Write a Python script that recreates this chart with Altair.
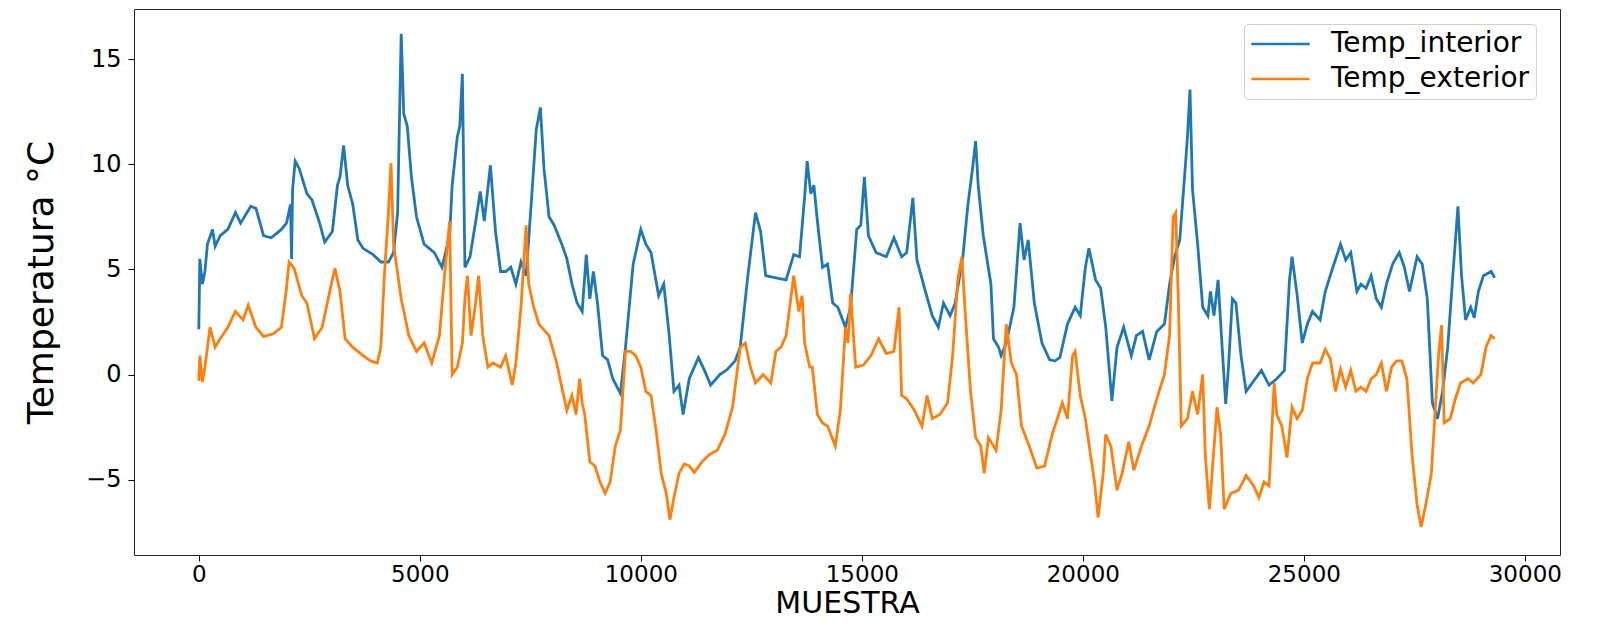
import altair as alt
import pandas as pd

# ---- data ----
x_interior = [0, 23, 81, 138, 196, 311, 369, 484, 657, 830, 946, 1176, 1292, 1465, 1638, 1869,
              1984, 2076, 2099, 2122, 2180, 2272, 2445, 2561, 2734, 2849, 3022, 3137, 3195, 3276,
              3368, 3483, 3599, 3714, 3945, 4118, 4291, 4406, 4498, 4579, 4637, 4717, 4810, 4925,
              5098, 5329, 5502, 5675, 5732, 5848, 5905, 5963, 6021, 6136, 6251, 6367, 6459, 6597,
              6713, 6828, 6943, 7059, 7174, 7289, 7405, 7520, 7635, 7728, 7809, 7924, 8039, 8212,
              8328, 8443, 8558, 8674, 8766, 8847, 8927, 9020, 9135, 9250, 9366, 9539, 9654, 9827,
              10000, 10115, 10231, 10404, 10519, 10634, 10750, 10865, 10957, 11096, 11303, 11441,
              11580, 11788, 11961, 12134, 12249, 12422, 12595, 12710, 12826, 13056, 13287, 13460,
              13591, 13707, 13764, 13845, 13915, 13995, 14111, 14226, 14342, 14457, 14630, 14746,
              14885, 14977, 15058, 15150, 15323, 15554, 15727, 15901, 16016, 16155, 16247, 16420,
              16593, 16732, 16848, 16998, 17113, 17286, 17402, 17494, 17575, 17633, 17748, 17921,
              17979, 18095, 18152, 18268, 18441, 18580, 18672, 18764, 18903, 19076, 19249, 19365,
              19480, 19653, 19827, 19942, 20058, 20138, 20289, 20404, 20519, 20658, 20774, 20924,
              21097, 21212, 21351, 21501, 21674, 21847, 21963, 22078, 22193, 22309, 22367, 22425,
              22482, 22598, 22713, 22829, 22887, 22967, 23060, 23152, 23233, 23291, 23383, 23464,
              23579, 23695, 23868, 24041, 24214, 24388, 24561, 24676, 24734, 24850, 24965, 25080,
              25196, 25369, 25485, 25658, 25831, 25947, 26062, 26201, 26293, 26408, 26524, 26639,
              26755, 26870, 27009, 27159, 27275, 27390, 27563, 27679, 27794, 27909, 28025, 28140,
              28256, 28371, 28487, 28568, 28660, 28776, 28856, 28949, 29064, 29237, 29318]
t_interior = [2.15, 5.5, 4.3, 4.9, 6.2, 6.9, 6.1, 6.6, 6.9, 7.7, 7.2, 8.0, 7.9, 6.6, 6.5, 6.9,
              7.2, 8.1, 5.5, 8.8, 10.15, 9.8, 8.6, 8.3, 7.2, 6.3, 6.8, 9.0, 9.4, 10.9,
              9.0, 8.1, 6.4, 6.0, 5.7, 5.35, 5.35, 5.8, 7.7, 16.2, 12.4, 11.8, 9.4, 7.5,
              6.2, 5.8, 5.1, 6.6, 9.0, 11.3, 11.8, 14.3, 5.1, 5.6, 7.1, 8.7, 7.3, 9.95,
              6.8, 4.9, 4.9, 5.1, 4.3, 5.35, 4.7, 8.1, 11.65, 12.7, 9.8, 7.5, 7.1, 6.2,
              5.5, 4.3, 3.4, 3.0, 5.7, 3.6, 4.9, 3.4, 0.9, 0.7, -0.2, -0.9, 1.3, 5.25,
              6.9, 6.2, 5.8, 3.75, 4.3, 2.05, -0.8, -0.5, -1.9, -0.2, 0.8, 0.2,
              -0.5, 0.0, 0.25, 0.65, 1.3, 4.7, 7.7, 6.8, 4.7, 4.6, 4.5, 5.7,
              5.6, 8.45, 10.15, 8.6, 9.0, 7.3, 5.1, 5.25, 3.4, 3.2, 2.25, 3.2,
              6.9, 7.1, 9.4, 6.6, 5.8, 5.6, 6.5, 5.6, 5.8, 8.4, 5.45, 4.1,
              2.8, 2.25, 3.4, 2.8, 3.4, 5.6, 8.1, 9.6, 11.1, 9.0, 6.6, 4.3,
              1.7, 1.3, 0.9, 1.5, 3.2, 7.2, 5.45, 6.4, 3.4, 1.5, 0.7, 0.65,
              0.8, 2.4, 3.2, 2.8, 5.1, 6.0, 4.5, 4.1, 2.25, -1.25, 1.3, 2.25,
              0.9, 1.85, 2.05, 0.7, 2.05, 2.4, 4.3, 5.6, 6.4, 9.6, 11.3, 13.55,
              8.8, 6.2, 3.2, 2.8, 3.95, 2.8, 4.5, 1.3, -1.4, 0.2, 3.6, 3.4,
              0.9, -0.8, -0.3, 0.2, -0.5, -0.2, 0.2, 4.5, 5.6, 3.75, 1.5, 2.4,
              3.0, 2.6, 3.95, 5.1, 6.2, 5.45, 5.8, 3.95, 4.3, 4.1, 4.7, 3.6,
              3.2, 4.3, 5.25, 5.8, 5.1, 3.95, 5.6, 5.25, 3.6, -1.35, -2.1, -0.8,
              1.3, 4.7, 8.0, 4.7, 2.6, 3.2, 2.7, 3.95, 4.7, 4.9, 4.6]

x_exterior = [0, 23, 81, 138, 254, 369, 484, 657, 830, 1003, 1119, 1292, 1465, 1695, 1869, 1984,
              2042, 2157, 2330, 2445, 2618, 2791, 2907, 2999, 3080, 3195, 3310, 3483, 3714, 3887,
              4037, 4118, 4198, 4291, 4348, 4406, 4579, 4752, 4925, 5098, 5271, 5444, 5559, 5675,
              5732, 5848, 5963, 6021, 6078, 6159, 6251, 6332, 6424, 6540, 6655, 6828, 6943, 7093,
              7174, 7289, 7405, 7463, 7578, 7693, 7924, 8097, 8212, 8328, 8443, 8535, 8616, 8674,
              8731, 8847, 8962, 9077, 9193, 9308, 9423, 9539, 9654, 9769, 9885, 10000, 10115,
              10231, 10346, 10461, 10577, 10658, 10750, 10865, 10980, 11096, 11211, 11384, 11557,
              11730, 11903, 12076, 12249, 12364, 12480, 12595, 12768, 12941, 13056, 13172, 13287,
              13460, 13575, 13649, 13707, 13822, 13880, 13995, 14111, 14226, 14400, 14515, 14630,
              14688, 14746, 14861, 15035, 15208, 15381, 15554, 15727, 15843, 15901, 16016, 16189,
              16362, 16478, 16593, 16767, 16940, 17055, 17171, 17263, 17344, 17460, 17575, 17691,
              17771, 17864, 18037, 18152, 18268, 18383, 18499, 18614, 18787, 18961, 19134, 19307,
              19423, 19538, 19653, 19769, 19827, 19942, 20058, 20173, 20265, 20346, 20462, 20519,
              20635, 20774, 20889, 21039, 21155, 21328, 21501, 21674, 21847, 21963, 22044, 22101,
              22159, 22228, 22367, 22482, 22598, 22713, 22771, 22863, 22944, 23037, 23118, 23199,
              23349, 23522, 23695, 23868, 23984, 24099, 24214, 24330, 24388, 24503, 24619, 24734,
              24850, 24965, 25080, 25196, 25369, 25485, 25600, 25716, 25831, 25947, 26062, 26178,
              26293, 26408, 26524, 26639, 26755, 26870, 26986, 27101, 27217, 27332, 27448, 27563,
              27656, 27771, 27886, 27967, 28048, 28117, 28175, 28314, 28429, 28545, 28718, 28833,
              29006, 29122, 29237, 29318]
t_exterior = [-0.3, 0.9, -0.35, 0.35, 2.25, 1.3, 1.7, 2.25, 3.0, 2.6, 3.3, 2.25, 1.8, 1.95, 2.25, 4.1,
              5.35, 5.05, 3.75, 3.4, 1.7, 2.25, 3.4, 4.3, 5.05, 3.95, 1.7, 1.3, 0.9, 0.65,
              0.55, 1.3, 4.7, 7.7, 10.05, 6.2, 3.6, 1.85, 1.1, 1.5, 0.55, 1.85, 4.7, 7.3,
              0.0, 0.35, 1.5, 3.6, 4.7, 1.85, 3.2, 4.7, 1.85, 0.35, 0.55, 0.35, 0.9, -0.5,
              0.55, 3.2, 7.1, 4.3, 3.2, 2.4, 1.85, 0.55, -0.6, -1.7, -1.0, -1.9, -0.2, -1.35,
              -1.9, -4.15, -4.35, -5.1, -5.65, -5.1, -3.4, -2.65, 1.1, 1.1, 0.9, 0.35, -0.8,
              -1.0, -2.65, -4.7, -5.65, -6.9, -5.85, -4.7, -4.25, -4.35, -4.65, -4.15, -3.8,
              -3.6, -2.85, -1.55, 1.3, 1.5, 0.35, -0.4, 0.0, -0.4, 1.1, 1.3, 1.85,
              4.7, 3.0, 3.75, 1.5, 0.35, 0.35, -1.9, -2.3, -2.45, -3.4, -1.7, 2.25,
              1.5, 3.85, 0.35, 0.45, 0.9, 1.7, 1.0, 1.1, 3.2, -1.0, -1.15, -1.7,
              -2.45, -1.0, -2.1, -1.9, -1.35, 0.9, 4.5, 5.6, 2.8, -0.8, -3.0, -3.4,
              -4.7, -3.0, -3.6, -1.7, 2.4, 0.55, 0.0, -2.45, -3.4, -4.45, -4.35, -2.85,
              -2.1, -1.35, -2.1, 0.9, 1.1, -1.0, -2.1, -3.8, -5.1, -6.8, -4.7, -2.85,
              -3.4, -5.5, -4.7, -3.2, -4.55, -3.4, -2.45, -1.15, 0.0, 1.85, 7.5, 7.7,
              3.75, -2.45, -2.1, -0.8, -1.9, 0.0, -3.8, -6.4, -4.15, -1.55, -2.85, -6.4,
              -5.65, -5.5, -4.8, -5.3, -5.85, -5.1, -5.3, -0.4, -1.9, -2.45, -3.95, -1.55,
              -2.1, -1.7, -0.2, 0.55, 0.55, 1.2, 0.75, -0.8, 0.25, -0.6, 0.2, -0.8,
              -0.6, -0.8, -0.2, 0.0, 0.55, -0.8, 0.35, 0.65, 0.65, -0.2, -3.8, -6.2,
              -7.25, -6.05, -4.7, -1.9, 0.9, 2.35, -2.3, -2.1, -1.15, -0.4, -0.2, -0.4,
              0.0, 1.3, 1.85, 1.7]

series_names = ["Temp_interior", "Temp_exterior"]
series_colors = ["#1f77b4", "#ff7f0e"]
x_ticks = [0, 5000, 10000, 15000, 20000, 25000, 30000]
y_ticks = [-5, 0, 5, 10, 15]

df = pd.concat([
    pd.DataFrame({"MUESTRA": x_interior, "T": t_interior, "serie": series_names[0]}),
    pd.DataFrame({"MUESTRA": x_exterior, "T": t_exterior, "serie": series_names[1]}),
])

FONT = "DejaVu Sans"

chart = alt.Chart(df).mark_line(strokeWidth=2.8, interpolate="linear").encode(
    x=alt.X("MUESTRA:Q",
            scale=alt.Scale(domain=[-1466, 30796], nice=False, zero=False),
            axis=alt.Axis(values=x_ticks, format="d", title="MUESTRA",
                          labelFontSize=23, titleFontSize=30, titleFontWeight="normal",
                          labelPadding=2, titlePadding=2, tickSize=6, tickColor="#000",
                          labelColor="#000", titleColor="#000", domain=False, grid=False,
                          labelFlush=False)),
    y=alt.Y("T:Q",
            scale=alt.Scale(domain=[-8.58, 17.38], nice=False, zero=False),
            axis=alt.Axis(values=y_ticks, format="d", title="Temperatura °C",
                          labelExpr="replace(datum.label, '-', '\u2212')",
                          labelFontSize=24, titleFontSize=36, titleFontWeight="normal",
                          labelPadding=7, titlePadding=25, tickSize=6, tickColor="#000",
                          labelColor="#000", titleColor="#000", domain=False, grid=False,
                          labelFlush=False)),
    color=alt.Color("serie:N",
                    scale=alt.Scale(domain=series_names, range=series_colors),
                    legend=alt.Legend(title=None, orient="none", legendX=1110, legendY=15,
                                      symbolType="stroke", symbolSize=3400,
                                      symbolStrokeWidth=2.5, labelFontSize=28,
                                      labelOffset=20, clipHeight=28, rowPadding=7,
                                      padding=6, strokeColor="#d0d0d0", fillColor="#ffffff",
                                      cornerRadius=4, labelColor="#000", labelLimit=400)),
).properties(
    width=1426,
    height=546,
    autosize=alt.AutoSizeParams(type="none"),
    padding={"left": 126, "top": 1, "right": 35, "bottom": 69},
).configure(
    font=FONT,
).configure_view(
    stroke="#222", strokeWidth=1
)

chart.save("out.html", embed_options={"renderer": "svg", "actions": False})
